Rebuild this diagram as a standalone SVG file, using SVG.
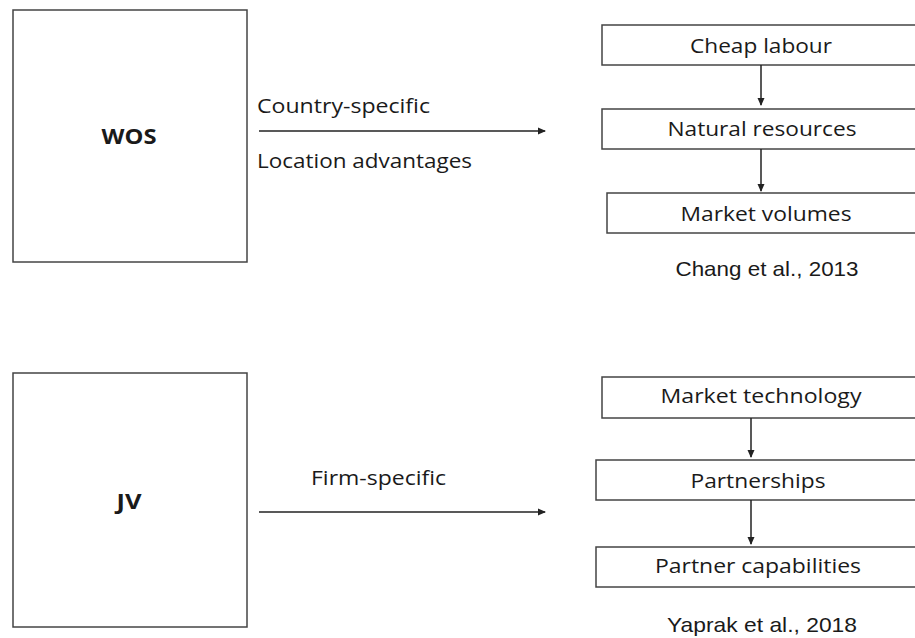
<svg xmlns="http://www.w3.org/2000/svg" width="915" height="638" viewBox="0 0 915 638">
<style>
.box{fill:#fff;stroke:#444;stroke-width:1.5}
.lbl{font-family:"Open Sans","Noto Sans","Liberation Sans",sans-serif;font-size:20px;fill:#1a1a1a}
.ref{font-family:"Liberation Sans",Arial,sans-serif;font-size:21px;fill:#1a1a1a}
.bold{font-family:"Open Sans","Noto Sans","Liberation Sans",sans-serif;font-size:22px;font-weight:bold;fill:#1a1a1a}
.con{stroke:#222;stroke-width:1.5;fill:none}
</style>
<defs>
<marker id="ah" markerWidth="8" markerHeight="8" refX="7" refY="4" orient="auto" markerUnits="userSpaceOnUse">
<path d="M0,0.5 L8,4 L0,7.5 Z" fill="#222"/>
</marker>
</defs>
<rect width="915" height="638" fill="#fff"/>
<g id="wos">
<rect class="box" x="13" y="10" width="234" height="252"/>
<text class="bold" x="129" y="144" text-anchor="middle" textLength="55" lengthAdjust="spacingAndGlyphs">WOS</text>
</g>
<g id="jv">
<rect class="box" x="13" y="373" width="234" height="254"/>
<text class="bold" x="129" y="509" text-anchor="middle" textLength="25" lengthAdjust="spacingAndGlyphs">JV</text>
</g>
<g id="cheap-labour">
<rect class="box" x="602" y="25" width="320" height="40"/>
<text class="lbl" x="761" y="53" text-anchor="middle" textLength="142" lengthAdjust="spacingAndGlyphs">Cheap labour</text>
</g>
<g id="natural-resources">
<rect class="box" x="602" y="109" width="320" height="40"/>
<text class="lbl" x="762" y="136" text-anchor="middle" textLength="189" lengthAdjust="spacingAndGlyphs">Natural resources</text>
</g>
<g id="market-volumes">
<rect class="box" x="607" y="193" width="320" height="40"/>
<text class="lbl" x="766" y="221" text-anchor="middle" textLength="171" lengthAdjust="spacingAndGlyphs">Market volumes</text>
</g>
<g id="market-technology">
<rect class="box" x="602" y="377" width="320" height="41"/>
<text class="lbl" x="761" y="403" text-anchor="middle" textLength="201" lengthAdjust="spacingAndGlyphs">Market technology</text>
</g>
<g id="partnerships">
<rect class="box" x="596" y="460" width="330" height="40"/>
<text class="lbl" x="758" y="488" text-anchor="middle" textLength="135" lengthAdjust="spacingAndGlyphs">Partnerships</text>
</g>
<g id="partner-capabilities">
<rect class="box" x="596" y="547" width="330" height="40"/>
<text class="lbl" x="758" y="573" text-anchor="middle" textLength="206" lengthAdjust="spacingAndGlyphs">Partner capabilities</text>
</g>
<g id="labels">
<text class="lbl" x="257" y="113" textLength="173" lengthAdjust="spacingAndGlyphs">Country-specific</text>
<text class="lbl" x="257" y="168" textLength="215" lengthAdjust="spacingAndGlyphs">Location advantages</text>
<text class="lbl" x="311" y="485" textLength="135" lengthAdjust="spacingAndGlyphs">Firm-specific</text>
<text class="ref" x="767" y="276" text-anchor="middle" textLength="183" lengthAdjust="spacingAndGlyphs">Chang et al., 2013</text>
<text class="ref" x="762" y="632" text-anchor="middle" textLength="190" lengthAdjust="spacingAndGlyphs">Yaprak et al., 2018</text>
</g>
<g id="connectors">
<line class="con" x1="259" y1="131" x2="545" y2="131" marker-end="url(#ah)"/>
<line class="con" x1="259" y1="512" x2="545" y2="512" marker-end="url(#ah)"/>
<line class="con" x1="761" y1="65" x2="761" y2="105" marker-end="url(#ah)"/>
<line class="con" x1="761" y1="149" x2="761" y2="191" marker-end="url(#ah)"/>
<line class="con" x1="751" y1="418" x2="751" y2="457" marker-end="url(#ah)"/>
<line class="con" x1="751" y1="500" x2="751" y2="544" marker-end="url(#ah)"/>
</g>
</svg>
